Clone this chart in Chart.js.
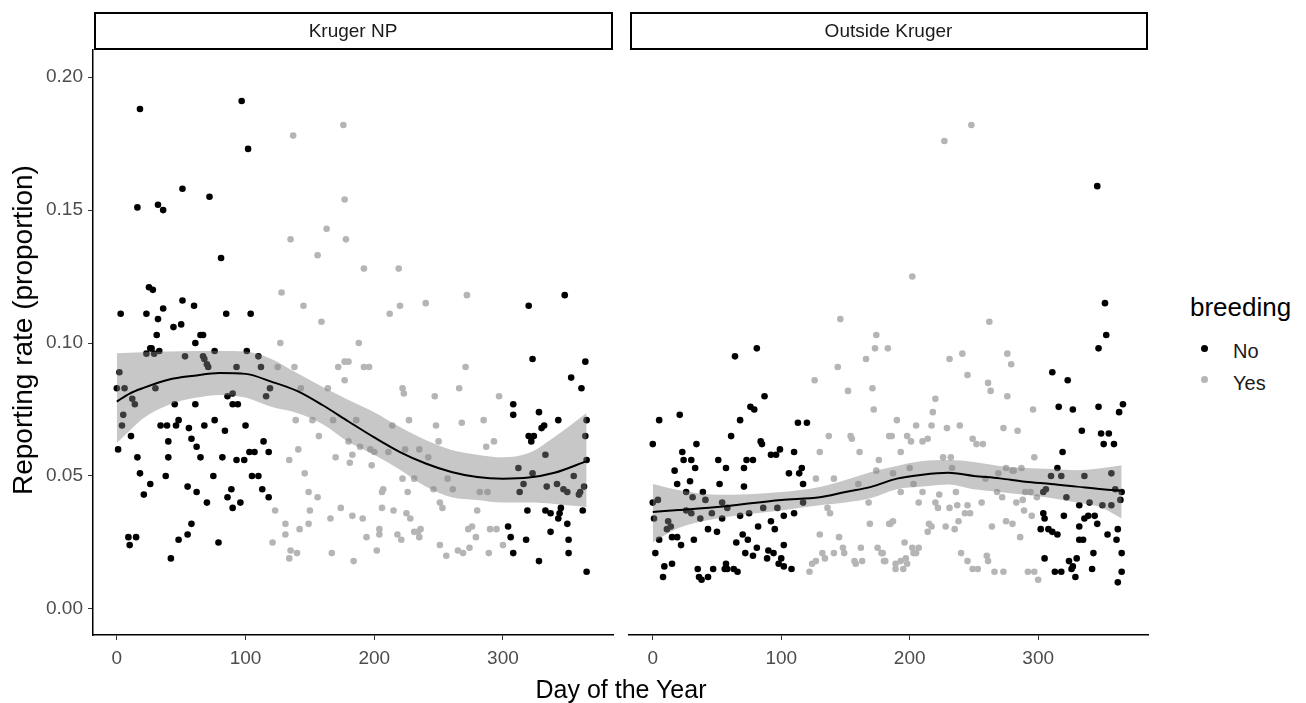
<!DOCTYPE html>
<html>
<head>
<meta charset="utf-8">
<script src="https://cdn.jsdelivr.net/npm/chart.js"></script>
<style>
  body { margin: 0; background: #fff; width: 1306px; height: 703px; overflow: hidden; font-family: "Liberation Sans", Arial, sans-serif; }
  canvas { position: absolute; top: 0; }
  #chartA { left: 0; }
  #chartB { left: 620px; }
  .lab { position: absolute; color: #000; white-space: nowrap; line-height: 1; }
  #ytitle { left: 23px; top: 330px; font-size: 28px; transform: translate(-50%, -50%) rotate(-90deg); }
  #xtitle { left: 621px; top: 689px; font-size: 25px; transform: translate(-50%, -50%); }
  #legTitle { left: 1190px; top: 294px; font-size: 26px; }
  .legItem { position: absolute; left: 1233px; font-size: 20px; line-height: 1; color: #1a1a1a; }
  .dot { position: absolute; width: 7px; height: 7px; border-radius: 50%; }
</style>
</head>
<body>
<canvas id="chartA" width="620" height="703"></canvas>
<canvas id="chartB" width="540" height="703"></canvas>
<div class="lab" id="ytitle">Reporting rate (proportion)</div>
<div class="lab" id="xtitle">Day of the Year</div>
<div class="lab" id="legTitle">breeding</div>
<span class="dot" style="left:1201px; top:345px; background:#000"></span>
<div class="legItem" style="top:341px">No</div>
<span class="dot" style="left:1201px; top:376px; background:#b5b5b5"></span>
<div class="legItem" style="top:373px">Yes</div>
<script>
// facet labels and axis ticks
const panels = ['Kruger NP', 'Outside Kruger'];
const xTicks = [0, 100, 200, 300];
const yTicks = [0, 0.05, 0.10, 0.15, 0.20];

// [day, reporting rate]
const krugerNo = [
  [18,0.188],[97,0.191],[102,0.173],[16,0.151],[32,0.152],[36,0.150],[51,0.158],[72,0.155],[81,0.132],
  [3,0.111],[23,0.111],[25,0.121],[28,0.120],[36,0.113],[32,0.109],[51,0.116],[60,0.114],[44,0.106],
  [50,0.107],[31,0.103],[65,0.103],[67,0.103],[61,0.100],[85,0.111],[104,0.111],[26,0.098],[33,0.097],
  [76,0.097],[101,0.097],[23,0.096],[27,0.098],[29,0.096],[53,0.095],[110,0.095],[67,0.095],[68,0.094],
  [70,0.092],[71,0.091],[93,0.091],[112,0.091],[2,0.089],[0,0.083],[6,0.083],[30,0.083],[12,0.079],
  [14,0.077],[5,0.073],[4,0.069],[11,0.065],[1,0.060],[86,0.080],[90,0.081],[90,0.077],[94,0.077],
  [119,0.083],[116,0.080],[45,0.077],[61,0.077],[34,0.069],[39,0.069],[46,0.069],[48,0.071],[56,0.068],
  [68,0.069],[76,0.071],[84,0.067],[100,0.069],[40,0.063],[58,0.064],[62,0.061],[114,0.063],[118,0.059],
  [103,0.059],[107,0.059],[16,0.057],[40,0.057],[65,0.057],[82,0.057],[93,0.056],[99,0.056],[18,0.051],
  [38,0.050],[75,0.050],[105,0.050],[110,0.050],[26,0.047],[55,0.046],[89,0.045],[113,0.045],[21,0.043],
  [62,0.044],[86,0.042],[118,0.042],[70,0.040],[90,0.038],[96,0.040],[58,0.032],[55,0.028],[48,0.026],
  [79,0.025],[9,0.027],[10,0.024],[15,0.027],[42,0.019],
  [320,0.114],[348,0.118],[323,0.094],[364,0.093],[353,0.087],[361,0.083],[308,0.077],[308,0.073],
  [328,0.074],[343,0.071],[332,0.069],[330,0.068],[320,0.065],[324,0.065],[322,0.063],[365,0.071],
  [364,0.065],[333,0.058],[365,0.056],[312,0.053],[323,0.051],[355,0.050],[316,0.047],[313,0.044],
  [334,0.046],[342,0.047],[347,0.045],[350,0.044],[360,0.044],[359,0.043],[363,0.046],[319,0.037],
  [333,0.037],[337,0.036],[345,0.038],[344,0.036],[343,0.034],[362,0.037],[304,0.031],[306,0.027],
  [318,0.026],[337,0.029],[350,0.032],[351,0.026],[308,0.021],[351,0.021],[328,0.018],[365,0.014]
];
const krugerYes = [
  [137,0.178],[176,0.182],[177,0.154],[163,0.143],[135,0.139],[178,0.139],[156,0.133],[128,0.119],
  [145,0.114],[159,0.108],[127,0.100],[188,0.100],[125,0.091],[138,0.091],[172,0.091],[177,0.093],
  [180,0.093],[177,0.086],[143,0.083],[164,0.083],[139,0.071],[152,0.071],[168,0.071],[186,0.071],
  [157,0.065],[180,0.063],[141,0.060],[183,0.058],[170,0.057],[134,0.056],[181,0.055],[146,0.051],
  [149,0.044],[156,0.042],[123,0.037],[150,0.037],[174,0.038],[183,0.035],[166,0.034],[131,0.032],
  [149,0.032],[142,0.030],[131,0.028],[121,0.025],[135,0.022],[140,0.021],[134,0.019],[167,0.021],
  [184,0.018],[192,0.128],[219,0.128],[272,0.118],[240,0.115],[220,0.114],[212,0.111],
  [192,0.091],[196,0.091],[271,0.091],[222,0.083],[223,0.081],[247,0.080],[266,0.083],[297,0.080],
  [227,0.071],[268,0.070],[285,0.071],[248,0.069],[214,0.069],[250,0.063],[293,0.063],[287,0.061],
  [189,0.061],[197,0.060],[200,0.059],[211,0.059],[224,0.060],[235,0.060],[242,0.057],[198,0.054],
  [222,0.049],[231,0.049],[257,0.049],[246,0.045],[261,0.045],[226,0.044],[207,0.045],[206,0.044],
  [282,0.044],[288,0.044],[251,0.040],[253,0.038],[206,0.038],[215,0.037],[280,0.037],[225,0.036],
  [228,0.034],[191,0.034],[204,0.030],[204,0.028],[218,0.028],[221,0.026],[231,0.029],[234,0.029],
  [236,0.030],[235,0.027],[194,0.027],[273,0.030],[276,0.031],[279,0.027],[290,0.030],[295,0.030],
  [251,0.024],[202,0.022],[265,0.022],[269,0.021],[274,0.023],[289,0.021],[300,0.024],[256,0.020]
];
const outsideNo = [
  [64,0.095],[81,0.098],[87,0.080],[76,0.076],[79,0.075],[5,0.071],[21,0.073],[0,0.062],[68,0.071],
  [61,0.065],[113,0.070],[120,0.070],[84,0.063],[85,0.062],[34,0.062],[23,0.059],[24,0.056],[30,0.056],
  [33,0.053],[17,0.052],[19,0.047],[29,0.048],[51,0.056],[57,0.053],[73,0.056],[78,0.056],[71,0.053],
  [92,0.058],[96,0.058],[99,0.060],[110,0.059],[116,0.053],[114,0.051],[106,0.051],[52,0.047],[71,0.046],
  [117,0.047],[39,0.044],[26,0.044],[0,0.040],[4,0.041],[31,0.042],[41,0.041],[26,0.037],[30,0.036],
  [46,0.036],[54,0.040],[58,0.038],[68,0.035],[75,0.036],[86,0.038],[97,0.038],[110,0.036],[102,0.035],
  [117,0.040],[1,0.034],[12,0.033],[11,0.030],[14,0.031],[54,0.034],[37,0.034],[82,0.031],[92,0.033],
  [95,0.030],[43,0.030],[50,0.029],[5,0.026],[15,0.027],[19,0.027],[32,0.026],[22,0.024],[70,0.028],
  [65,0.025],[74,0.026],[81,0.023],[72,0.021],[78,0.020],[90,0.022],[94,0.021],[102,0.024],[89,0.019],
  [100,0.019],[98,0.017],[102,0.016],[108,0.015],[2,0.021],[9,0.016],[15,0.017],[8,0.012],[35,0.015],
  [36,0.012],[38,0.011],[43,0.012],[47,0.015],[57,0.017],[58,0.015],[63,0.015],[66,0.014],[56,0.015],
  [346,0.159],[352,0.115],[353,0.103],[347,0.098],[311,0.089],[323,0.086],[316,0.076],[327,0.075],
  [347,0.076],[363,0.074],[366,0.077],[334,0.067],[349,0.066],[355,0.066],[351,0.062],[359,0.062],
  [319,0.059],[315,0.053],[310,0.050],[318,0.050],[336,0.050],[357,0.051],[360,0.045],[365,0.044],
  [304,0.044],[306,0.045],[322,0.042],[332,0.039],[340,0.040],[350,0.039],[357,0.039],[364,0.041],
  [304,0.036],[305,0.034],[320,0.035],[336,0.034],[339,0.035],[344,0.035],[302,0.030],[308,0.030],
  [311,0.029],[315,0.028],[332,0.031],[346,0.032],[354,0.028],[362,0.030],[332,0.026],[335,0.026],
  [361,0.026],[343,0.021],[365,0.021],[305,0.019],[324,0.018],[327,0.016],[330,0.019],[326,0.015],
  [329,0.012],[313,0.014],[318,0.014],[342,0.015],[365,0.014],[362,0.010]
];
const outsideYes = [
  [248,0.182],[227,0.176],[202,0.125],[146,0.109],[262,0.108],
  [174,0.103],[173,0.098],[183,0.098],[166,0.094],[144,0.091],[126,0.086],[152,0.082],[171,0.083],
  [172,0.075],[137,0.065],[154,0.065],[155,0.064],[130,0.059],[161,0.059],[184,0.065],[176,0.056],
  [127,0.049],[141,0.049],[160,0.047],[174,0.052],[136,0.038],[138,0.036],[168,0.040],[169,0.032],
  [184,0.032],[130,0.028],[145,0.027],[148,0.023],[149,0.021],[162,0.023],[132,0.021],[134,0.019],
  [141,0.021],[124,0.017],[127,0.018],[122,0.014],[157,0.018],[158,0.017],[163,0.018],[175,0.023],
  [178,0.021],[180,0.018],
  [231,0.094],[241,0.096],[276,0.096],[279,0.092],[245,0.088],[261,0.085],[263,0.082],[220,0.079],
  [218,0.074],[276,0.080],[296,0.075],[190,0.071],[205,0.069],[217,0.069],[229,0.068],[239,0.069],
  [273,0.068],[284,0.067],[186,0.065],[198,0.065],[201,0.063],[210,0.063],[214,0.064],[249,0.064],
  [252,0.062],[257,0.062],[193,0.059],[297,0.057],[226,0.057],[232,0.057],[200,0.053],[187,0.051],
  [233,0.053],[275,0.053],[280,0.052],[281,0.052],[287,0.053],[269,0.051],[203,0.047],[193,0.044],
  [210,0.044],[236,0.044],[259,0.049],[223,0.043],[268,0.044],[272,0.042],[290,0.044],[294,0.044],
  [299,0.042],[207,0.040],[220,0.040],[222,0.038],[231,0.038],[237,0.039],[245,0.039],[243,0.036],
  [247,0.036],[256,0.040],[283,0.040],[288,0.041],[289,0.037],[295,0.035],[187,0.033],[185,0.032],
  [215,0.032],[217,0.031],[214,0.029],[228,0.031],[235,0.030],[238,0.033],[264,0.031],[275,0.033],
  [280,0.032],[286,0.027],[196,0.025],[202,0.023],[205,0.021],[207,0.023],[203,0.021],[240,0.021],
  [245,0.018],[260,0.020],[261,0.018],[179,0.021],[181,0.018],[189,0.017],[193,0.018],[197,0.019],
  [198,0.017],[189,0.015],[195,0.015],[249,0.015],[253,0.015],[266,0.014],[273,0.014],[292,0.014],
  [297,0.014],[300,0.011]
];

// loess fit and 95% band
const krugerFitDay = [0,10,20,40,60,80,100,120,140,160,180,200,220,240,260,280,300,320,340,365];
const krugerFit    = [0.078,0.081,0.083,0.0862,0.0877,0.0887,0.0884,0.0855,0.0820,0.0766,0.0705,0.0645,0.0590,0.0547,0.0515,0.0496,0.0490,0.0494,0.0512,0.0556];
const krugerUpper  = [0.0962,0.0963,0.0965,0.0968,0.0970,0.0970,0.0968,0.0940,0.0887,0.0835,0.0786,0.0740,0.0684,0.0635,0.0598,0.0580,0.0570,0.0586,0.0647,0.0737];
const krugerLower  = [0.0624,0.0670,0.0715,0.0767,0.0793,0.0805,0.0795,0.0760,0.0737,0.0695,0.0628,0.0580,0.0523,0.0460,0.0420,0.0410,0.0400,0.0400,0.0395,0.0383];

const outsideFitDay = [0,20,50,100,130,150,170,190,210,230,250,270,290,310,330,350,365];
const outsideFit    = [0.0365,0.0372,0.0383,0.0410,0.0420,0.0440,0.0459,0.0490,0.0505,0.0512,0.0500,0.0491,0.0478,0.0470,0.0460,0.0450,0.0444];
const outsideUpper  = [0.0470,0.0447,0.0429,0.0440,0.0459,0.0485,0.0515,0.0538,0.0556,0.0560,0.0553,0.0538,0.0530,0.0526,0.0522,0.0530,0.0540];
const outsideLower  = [0.0250,0.0304,0.0340,0.0370,0.0390,0.0400,0.0417,0.0450,0.0460,0.0468,0.0450,0.0440,0.0429,0.0417,0.0400,0.0380,0.0340];

Chart.defaults.font.family = '"Liberation Sans", Arial, sans-serif';

const pts = arr => arr.map(p => ({ x: p[0], y: p[1] }));
const curve = (days, vals) => days.map((d, i) => ({ x: d, y: vals[i] }));

const stripPlugin = {
  id: 'strip',
  afterDraw(chart, args, opts) {
    const { ctx, chartArea } = chart;
    ctx.save();
    ctx.strokeStyle = '#000';
    ctx.lineWidth = 2;
    ctx.strokeRect(chartArea.left + 2, 13, chartArea.right - chartArea.left - 3, 36);
    ctx.fillStyle = '#1a1a1a';
    ctx.font = '19px "Liberation Sans", Arial, sans-serif';
    ctx.textAlign = 'center';
    ctx.textBaseline = 'middle';
    ctx.fillText(opts.text, (chartArea.left + chartArea.right) / 2, 32);
    ctx.restore();
  }
};

function makeChart(id, title, no, yes, fitDay, fit, lower, upper, showY, padding) {
  return new Chart(document.getElementById(id), {
    type: 'scatter',
    data: {
      datasets: [
        { data: curve(fitDay, fit), showLine: true, borderColor: '#000', borderWidth: 2,
          pointRadius: 0, cubicInterpolationMode: 'monotone', order: 0 },
        { data: curve(fitDay, lower), showLine: true, borderWidth: 0, borderColor: 'rgba(0,0,0,0)',
          pointRadius: 0, cubicInterpolationMode: 'monotone', order: 1 },
        { data: curve(fitDay, upper), showLine: true, borderWidth: 0, borderColor: 'rgba(0,0,0,0)',
          pointRadius: 0, cubicInterpolationMode: 'monotone', fill: '-1',
          backgroundColor: 'rgba(130,130,130,0.45)', order: 1 },
        { data: pts(yes), pointRadius: 3.3, pointBackgroundColor: '#b5b5b5', pointBorderWidth: 0, order: 3 },
        { data: pts(no), pointRadius: 3.3, pointBackgroundColor: '#000', pointBorderWidth: 0, order: 2 }
      ]
    },
    options: {
      responsive: false,
      animation: false,
      layout: { padding: padding },
      plugins: { legend: { display: false }, tooltip: { enabled: false }, strip: { text: title } },
      scales: {
        x: {
          type: 'linear', min: -18.5, max: 385.5,
          afterBuildTicks: s => { s.ticks = xTicks.map(v => ({ value: v })); },
          afterFit: s => { s.height = 68; },
          ticks: { color: '#4d4d4d', font: { size: 19 }, padding: 7 },
          grid: { drawOnChartArea: false, tickLength: 5, color: '#333' },
          border: { display: true, color: '#000', width: 1.5 }
        },
        y: {
          display: showY,
          min: -0.0098, max: 0.2102,
          afterBuildTicks: s => { s.ticks = yTicks.map(v => ({ value: v })); },
          afterFit: s => { if (showY) s.width = 93; },
          ticks: { color: '#4d4d4d', font: { size: 19 }, padding: 5, callback: v => v.toFixed(2) },
          grid: { drawOnChartArea: false, tickLength: 5, color: '#333' },
          border: { display: true, color: '#000', width: 1.5 }
        }
      }
    },
    plugins: [stripPlugin]
  });
}

makeChart('chartA', panels[0], krugerNo, krugerYes, krugerFitDay, krugerFit, krugerLower, krugerUpper,
  true, { top: 50, right: 7, left: 0, bottom: 0 });
makeChart('chartB', panels[1], outsideNo, outsideYes, outsideFitDay, outsideFit, outsideLower, outsideUpper,
  false, { top: 50, right: 12, left: 9, bottom: 0 });
</script>
</body>
</html>
